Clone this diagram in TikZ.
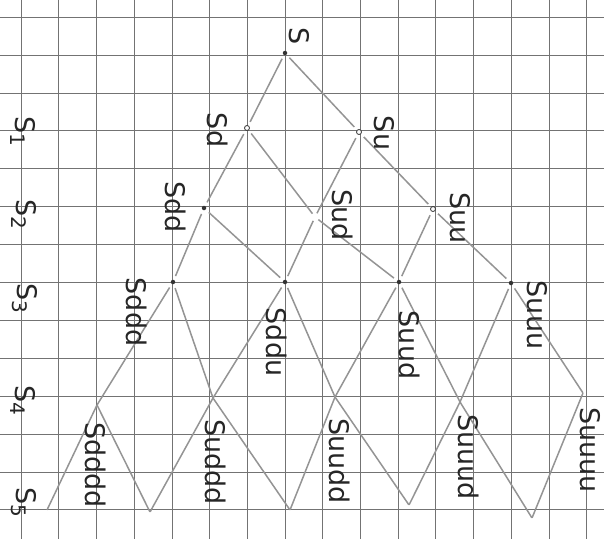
\documentclass[tikz,border=0pt]{standalone}
\usepackage{fontspec}
\setmainfont{DejaVu Sans}
\begin{document}
\begin{tikzpicture}[x=1pt,y=-1pt,
  gridline/.style={draw=black!55, line width=0.6pt},
  lab/.style={rotate=-90, text=black!85, font=\fontsize{27}{27}\selectfont, inner sep=0pt},
  br/.style={draw=black!42, line width=1.5pt, shorten >=4pt, shorten <=4pt},
  lo/.style={draw=black!42, line width=1.5pt},
  dot/.style={circle, fill=black!80, inner sep=0pt, minimum size=4.5pt},
  ring/.style={circle, draw=black!80, fill=white, line width=0.8pt, inner sep=0pt, minimum size=5pt},
  pt/.style={inner sep=0pt, minimum size=0pt}
]
\useasboundingbox (0,0) rectangle (604,539);
\fill[white] (0,0) rectangle (604,539);
% grid
\foreach \i in {0,...,15} \draw[gridline] (21+37.7*\i,0) -- (21+37.7*\i,539);
\foreach \j in {0,...,13} \draw[gridline] (0,17+37.9*\j) -- (604,17+37.9*\j);

% tree nodes
\node[dot]  (s)   at (285,53)  {};
\node[ring] (d)   at (247,128) {};
\node[ring] (u)   at (359,132) {};
\node[dot]  (dd)  at (204,208) {};
\node[pt]   (ud)  at (315,217) {};
\node[ring] (uu)  at (433,209) {};
\node[dot]  (ddd) at (173,282) {};
\node[dot]  (ddu) at (285,282) {};
\node[dot]  (uud) at (399,282) {};
\node[dot]  (uuu) at (511,283) {};
\node[pt] (a0) at (97,405) {};
\node[pt] (a1) at (213,398) {};
\node[pt] (a2) at (335,397) {};
\node[pt] (a3) at (460,402) {};
\node[pt] (a4) at (583,393) {};
\node[pt] (b0) at (47,510) {};
\node[pt] (b1) at (150,512) {};
\node[pt] (b2) at (290,510) {};
\node[pt] (b3) at (409,505) {};
\node[pt] (b4) at (532,518) {};

% branches
\draw[br] (s) -- (d);  \draw[br] (s) -- (u);
\draw[br] (d) -- (dd); \draw[br] (d) -- (ud);
\draw[br] (u) -- (ud); \draw[br] (u) -- (uu);
\draw[br] (dd) -- (ddd); \draw[br] (dd) -- (ddu);
\draw[br] (ud) -- (ddu); \draw[br] (ud) -- (uud);
\draw[br] (uu) -- (uud); \draw[br] (uu) -- (uuu);
\draw[br,shorten >=0pt] (ddd) -- (a0); \draw[br,shorten >=0pt] (ddd) -- (a1);
\draw[br,shorten >=0pt] (ddu) -- (a1); \draw[br,shorten >=0pt] (ddu) -- (a2);
\draw[br,shorten >=0pt] (uud) -- (a2); \draw[br,shorten >=0pt] (uud) -- (a3);
\draw[br,shorten >=0pt] (uuu) -- (a3); \draw[br,shorten >=0pt] (uuu) -- (a4);
\draw[lo] (a0) -- (b0); \draw[lo] (a0) -- (b1);
\draw[lo] (a1) -- (b1); \draw[lo] (a1) -- (b2);
\draw[lo] (a2) -- (b2); \draw[lo] (a2) -- (b3);
\draw[lo] (a3) -- (b3); \draw[lo] (a3) -- (b4);
\draw[lo] (a4) -- (b4);

% labels
\node[lab] (ls)    at (299,36)  {S};
\node[lab] (ld)    at (218,130) {Sd};
\node[lab] (lu)    at (384,133) {Su};
\node[lab] (ldd)   at (176,207) {Sdd};
\node[lab] (lud)   at (343,215) {Sud};
\node[lab] (luu)   at (460,218) {Suu};
\node[lab] (lddd)  at (137,312) {Sddd};
\node[lab] (lddu)  at (277,342) {Sddu};
\node[lab] (luud)  at (410,345) {Suud};
\node[lab] (luuu)  at (537,315) {Suuu};
\node[lab] (l4a)   at (96,465)  {Sdddd};
\node[lab] (l4b)   at (216,462) {Suddd};
\node[lab] (l4c)   at (340,461) {Suudd};
\node[lab] (l4d)   at (469,457) {Suuud};
\node[lab] (l4e)   at (590,450) {Suuuu};

% step labels
\node[lab] (t1) at (23,131) {S\raisebox{-0.35ex}{\fontsize{20}{20}\selectfont 1}};
\node[lab] (t2) at (24,214) {S\raisebox{-0.35ex}{\fontsize{20}{20}\selectfont 2}};
\node[lab] (t3) at (25,298) {S\raisebox{-0.35ex}{\fontsize{20}{20}\selectfont 3}};
\node[lab] (t4) at (23,400) {S\raisebox{-0.35ex}{\fontsize{20}{20}\selectfont 4}};
\node[lab] (t5) at (24,502) {S\raisebox{-0.35ex}{\fontsize{20}{20}\selectfont 5}};
\end{tikzpicture}
\end{document}
